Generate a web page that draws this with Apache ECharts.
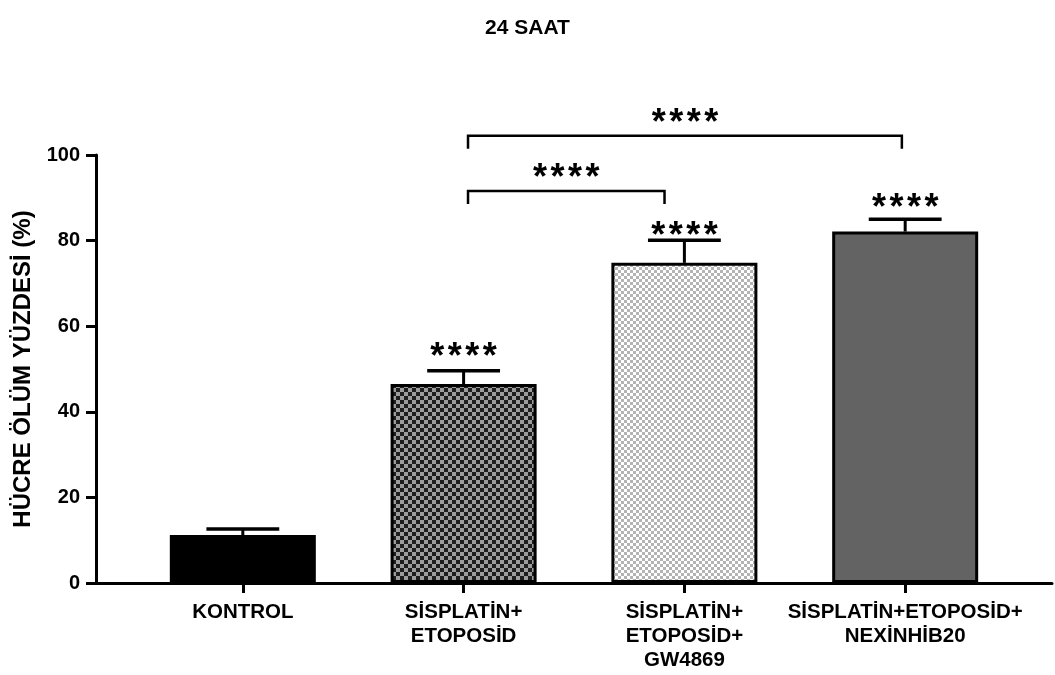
<!DOCTYPE html>
<html>
<head>
<meta charset="utf-8">
<script src="https://cdn.jsdelivr.net/npm/echarts@6/dist/echarts.min.js"></script>
<style>
  html, body { margin: 0; padding: 0; background: #fff; }
  #chart { width: 1055px; height: 675px; }
</style>
</head>
<body>
<div id="chart"></div>
<script>
// Groups along the x axis
const categories = [
  'KONTROL',
  'SİSPLATİN+\nETOPOSİD',
  'SİSPLATİN+\nETOPOSİD+\nGW4869',
  'SİSPLATİN+ETOPOSİD+\nNEXİNHİB20'
];
// Mean cell death (%) and upper error (SD) per group
const means = [11.2, 46.5, 74.8, 82.1];
const errors = [1.4, 3.1, 5.3, 2.9];
// Significance marks above each bar
const barStars = ['', '****', '****', '****'];
// Pairwise comparison brackets (group positions, height in %)
const bracketFrom = [1.02, 1.02];
const bracketTo = [1.91, 2.985];
const bracketY = [91.6, 104.5];
const bracketLabels = ['****', '****'];
// Y axis ticks
const yTicks = [0, 20, 40, 60, 80, 100];

// ---- styling ----
const FONT = '"Liberation Sans", Arial, Helvetica, sans-serif';
const starGap = [0, 20, 11, 18];   // px between error cap and star row
const STAR_SIZE = 36;

function checker(cell, dark, light) {
  const c = document.createElement('canvas');
  c.width = cell * 2; c.height = cell * 2;
  const g = c.getContext('2d');
  g.fillStyle = light; g.fillRect(0, 0, cell * 2, cell * 2);
  g.fillStyle = dark;
  g.fillRect(0, 0, cell, cell);
  g.fillRect(cell, cell, cell, cell);
  return c;
}
const barFills = [
  '#000000',
  { image: checker(4, '#1e1e1e', '#9c9c9c'), repeat: 'repeat' },
  { image: checker(3, '#b4b4b4', '#ffffff'), repeat: 'repeat' },
  '#636363'
];

// a row of asterisks centred on (cx, cy)
function starRow(cx, cy, text) {
  const chars = text.split('');
  const pitch = 17.5;
  return chars.map((ch, k) => ({
    type: 'text',
    style: {
      x: cx + (k - (chars.length - 1) / 2) * pitch,
      y: cy + STAR_SIZE * 0.21,
      text: ch,
      fill: '#000',
      font: 'bold ' + STAR_SIZE + 'px ' + FONT,
      align: 'center',
      verticalAlign: 'middle'
    }
  }));
}

const chart = echarts.init(document.getElementById('chart'), null, { renderer: 'canvas' });

chart.setOption({
  animation: false,
  backgroundColor: '#ffffff',
  title: {
    text: '24 SAAT',
    left: 'center',
    top: 13,
    textStyle: { fontFamily: FONT, fontWeight: 'bold', fontSize: 21, color: '#000' }
  },
  grid: { left: 96, right: 3, top: 155, bottom: 92, containLabel: false },
  xAxis: {
    type: 'value',
    min: -0.665,
    max: 3.665,
    splitLine: { show: false },
    axisLine: { show: true, onZero: false, lineStyle: { color: '#000', width: 3 } },
    axisTick: { show: true, customValues: categories.map((c, i) => i), length: 10, lineStyle: { color: '#000', width: 3 } },
    axisLabel: {
      customValues: categories.map((c, i) => i),
      formatter: v => categories[Math.round(v)] || '',
      fontFamily: FONT, fontWeight: 'bold', fontSize: 20.5, color: '#000',
      lineHeight: 24, margin: 17, align: 'center'
    }
  },
  yAxis: {
    type: 'value',
    min: yTicks[0],
    max: yTicks[yTicks.length - 1],
    interval: 20,
    name: 'HÜCRE ÖLÜM YÜZDESİ (%)',
    nameLocation: 'middle',
    nameRotate: 90,
    nameGap: 54,
    nameTextStyle: { fontFamily: FONT, fontWeight: 'bold', fontSize: 24, color: '#000' },
    splitLine: { show: false },
    axisLine: { show: true, onZero: false, lineStyle: { color: '#000', width: 3 } },
    axisTick: { show: true, length: 10, lineStyle: { color: '#000', width: 3 } },
    axisLabel: { fontFamily: FONT, fontWeight: 'bold', fontSize: 20, color: '#000', margin: 16 }
  },
  series: [
    {
      type: 'bar',
      barWidth: 146,
      data: means.map((m, i) => ({
        value: [i, m],
        itemStyle: { color: barFills[i], borderColor: '#000', borderWidth: 3 }
      })),
      z: 2
    },
    {
      // error bars with significance stars
      type: 'custom',
      data: means.map((m, i) => [i, m, errors[i]]),
      encode: { x: 0, y: 1 },
      z: 3,
      renderItem: function (params, api) {
        const i = api.value(0), m = api.value(1), e = api.value(2);
        const base = api.coord([i, m]);
        const top = api.coord([i, m + e]);
        const capHalf = api.size([1, 0])[0] * 0.165;
        const children = [
          { type: 'line', shape: { x1: base[0], y1: base[1], x2: top[0], y2: top[1] },
            style: { stroke: '#000', lineWidth: 3 } },
          { type: 'line', shape: { x1: top[0] - capHalf, y1: top[1], x2: top[0] + capHalf, y2: top[1] },
            style: { stroke: '#000', lineWidth: 3.5 } }
        ];
        const s = barStars[i];
        if (s) {
          starRow(top[0], top[1] - starGap[i], s).forEach(t => children.push(t));
        }
        return { type: 'group', children: children };
      }
    },
    {
      // comparison brackets
      type: 'custom',
      clip: false,
      data: bracketY.map((y, k) => [bracketFrom[k], bracketTo[k], y, k]),
      encode: { x: [0, 1], y: 2 },
      z: 3,
      renderItem: function (params, api) {
        const k = api.value(3);
        const a = api.coord([api.value(0), api.value(2)]);
        const b = api.coord([api.value(1), api.value(2)]);
        const leg = 13;
        const children = [
          { type: 'polyline',
            shape: { points: [[a[0], a[1] + leg], [a[0], a[1]], [b[0], b[1]], [b[0], b[1] + leg]] },
            style: { stroke: '#000', lineWidth: 2.5, fill: null } }
        ];
        starRow((a[0] + b[0]) / 2, a[1] - 19, bracketLabels[k]).forEach(t => children.push(t));
        return { type: 'group', children: children };
      }
    }
  ]
});
</script>
</body>
</html>
